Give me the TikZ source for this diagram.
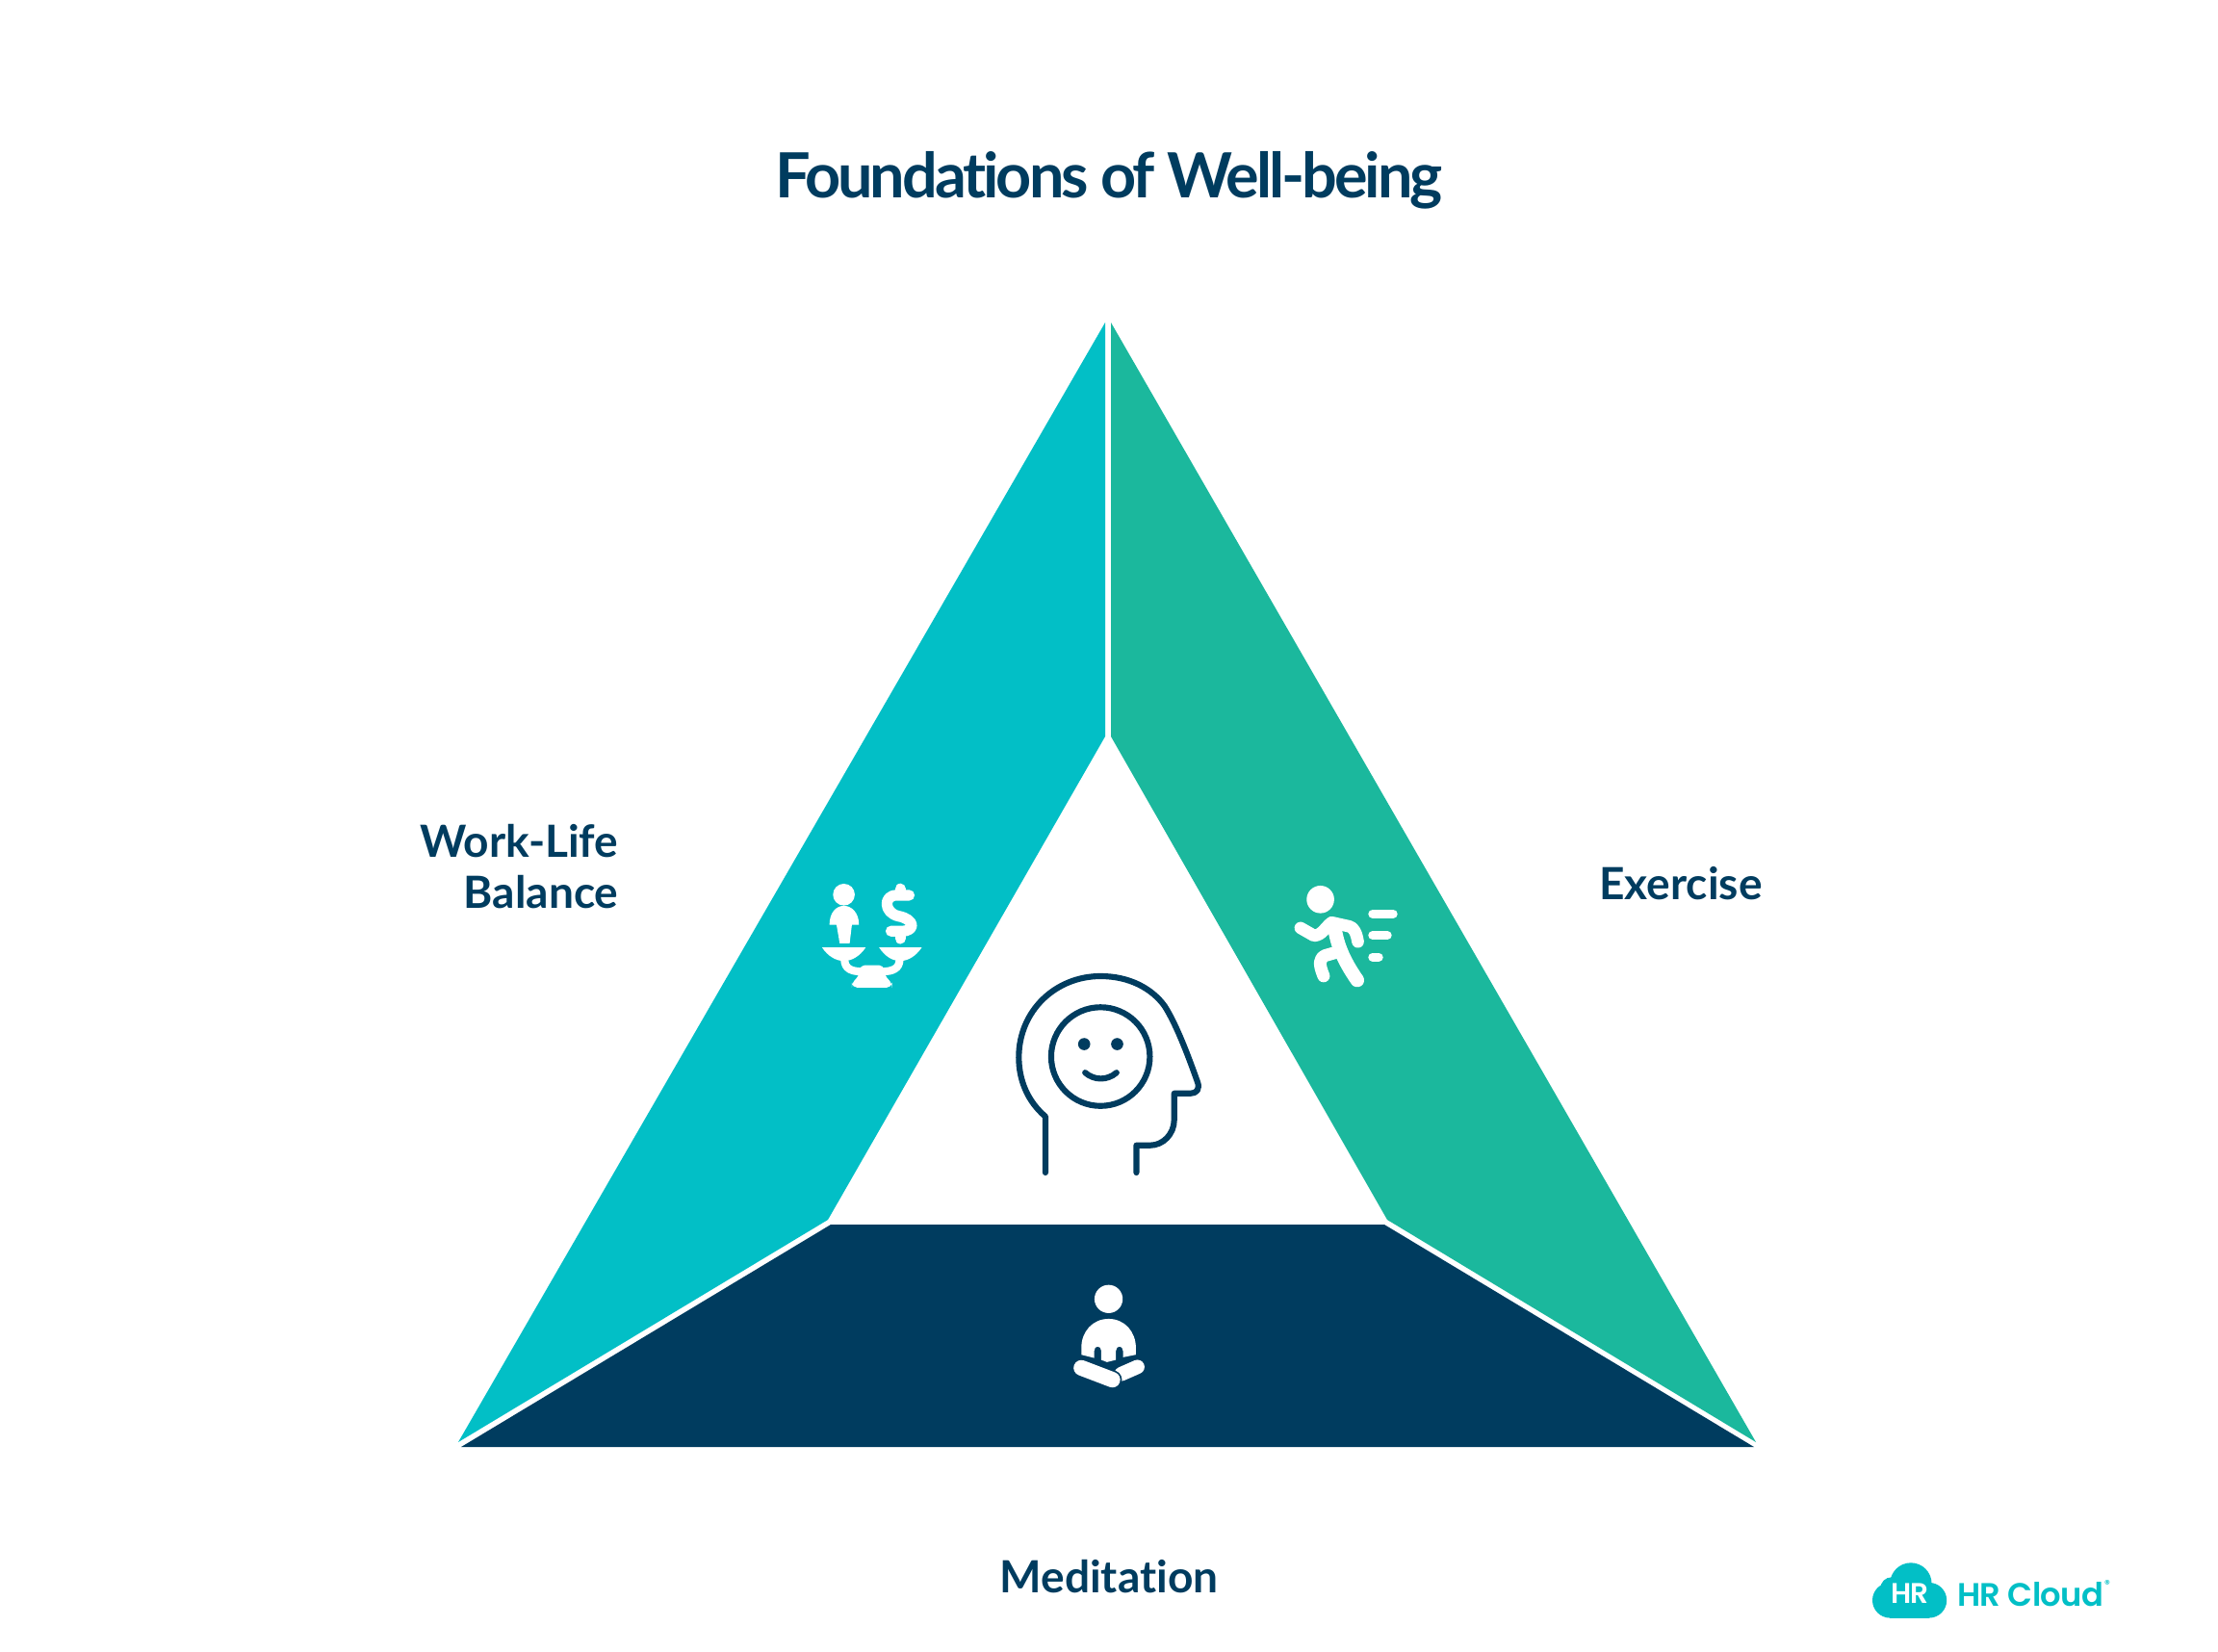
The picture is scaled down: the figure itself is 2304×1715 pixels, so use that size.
\documentclass[tikz,border=0pt]{standalone}
\usepackage{fontspec}
\setmainfont{Lato}[Ligatures=NoCommon]
\newfontfamily\titlefont{Lato}[LetterSpace=-4.7,Ligatures=NoCommon]
\newfontfamily\logofont{Poppins SemiBold}[LetterSpace=-2]
\definecolor{wbcyan}{HTML}{02BFC6}
\definecolor{wbgreen}{HTML}{1BB89D}
\definecolor{wbnavy}{HTML}{003C5F}
\tikzset{
  panel/.style={draw=none},
  label/.style={text=wbnavy,font=\bfseries\fontsize{13.1pt}{15pt}\selectfont,inner sep=0pt,align=right},
  icon/.style={fill=white,draw=none},
  iconline/.style={draw=white,line cap=round,line join=round},
  headline/.style={draw=wbnavy,line width=1.75pt,line cap=round,line join=round},
  zoomed/.style={x=0.00333cm,y=-0.00333cm}
}
\begin{document}
\begin{tikzpicture}[x=0.01cm,y=-0.01cm]
\useasboundingbox (0,0) rectangle (2304,1715);
\fill [white] (0,0) rectangle (2304,1715);
\node [label,font=\titlefont\bfseries\fontsize{18.4pt}{22pt}\selectfont] (title) at (1152,187) {Foundations of Well-being};
\fill [wbcyan,panel] (1148,335) -- (1148,765) -- (860,1267) -- (476,1498) -- cycle;
\fill [wbgreen,panel] (1154,335) -- (1154,765) -- (1441,1267) -- (1824,1498) -- cycle;
\fill [wbnavy,panel] (479,1503) -- (863,1272) -- (1438,1272) -- (1822,1503) -- cycle;
\node [label,anchor=east] (balance) at (643,900) {Work-Life\\Balance};
\node [label] (exercise) at (1746,918) {Exercise};
\node [label] (meditation) at (1152,1638) {Meditation};
% head
\begin{scope}[shift={(1040,1000)},zoomed]
\draw [headline] (138,655) -- (138,480) .. controls (85,435) and (55,370) .. (55,295) .. controls (55,150) and (170,42) .. (310,42) .. controls (400,42) and (470,80) .. (510,135) .. controls (545,190) and (580,280) .. (612,370) .. controls (622,395) and (610,408) .. (590,408) -- (540,408) -- (540,490) .. controls (540,535) and (505,570) .. (465,570) -- (422,570) -- (422,655);
\draw [headline] (310,293) circle (154);
\fill [wbnavy] (259,254) circle (19);
\fill [wbnavy] (362,254) circle (19);
\draw [headline] (262,343) .. controls (290,368) and (332,368) .. (360,343);
\end{scope}
% balance icon
\begin{scope}[shift={(830,890)},zoomed]
\fill [icon] (140,118) circle (34);
\fill [icon] (95,212) .. controls (95,175) and (115,153) .. (140,153) .. controls (165,153) and (187,175) .. (187,212) -- (165,212) -- (158,270) -- (127,270) -- (117,212) -- cycle;
\draw [iconline,line width=3.2pt] (344,120) -- (305,120) .. controls (262,120) and (265,175) .. (310,185) .. controls (362,195) and (365,232) .. (320,232) -- (287,232);
\draw [iconline,line width=3.2pt] (316,100) -- (316,115);
\draw [iconline,line width=3.2pt] (316,240) -- (316,255);
\fill [icon] (72,283) -- (208,283) .. controls (190,310) and (165,325) .. (140,325) .. controls (115,325) and (90,310) .. (72,283) -- cycle;
\fill [icon] (250,283) -- (383,283) .. controls (365,310) and (340,325) .. (316,325) .. controls (290,325) and (268,310) .. (250,283) -- cycle;
\draw [iconline,line width=2.3pt,line cap=butt] (142,320) .. controls (142,350) and (165,358) .. (195,358);
\draw [iconline,line width=2.3pt,line cap=butt] (314,320) .. controls (314,350) and (290,358) .. (260,358);
\fill [icon,rounded corners=1.5pt] (165,408) -- (165,392) -- (188,372) -- (190,338) -- (265,338) -- (267,372) -- (290,392) -- (290,408) -- cycle;
\end{scope}
% runner
\begin{scope}[shift={(1320,900)},zoomed]
\fill [icon] (155,103) circle (43);
\draw [iconline,line width=2.6pt] (318,148) -- (382,148);
\draw [iconline,line width=2.6pt] (318,215) -- (364,215);
\draw [iconline,line width=2.6pt] (318,283) -- (337,283);
\draw [iconline,line width=3.6pt] (93,192) -- (135,216) .. controls (160,215) and (170,190) .. (190,175) -- (245,187) .. controls (260,190) and (268,210) .. (272,235);
\draw [iconline,line width=4.1pt] (198,180) .. controls (205,240) and (225,290) .. (270,355);
\draw [iconline,line width=3.7pt] (205,268) -- (170,278) .. controls (150,288) and (150,305) .. (165,342);
\end{scope}
% meditation
\begin{scope}[shift={(1090,1320)},zoomed]
\fill [icon] (185,88) circle (44);
\fill [icon] (100,262) -- (100,240) .. controls (100,190) and (135,150) .. (185,150) .. controls (235,150) and (270,190) .. (270,240) -- (270,262) -- (230,270) -- (230,250) .. controls (230,232) and (208,232) .. (208,250) -- (208,278) -- (180,285) -- (162,278) -- (162,250) .. controls (162,232) and (140,232) .. (140,250) -- (140,272) -- cycle;
\draw [iconline,line width=4.2pt] (225,322) -- (275,300);
\draw [draw=wbnavy,line width=5.6pt,line cap=round] (100,303) -- (197,340);
\draw [iconline,line width=4.6pt] (100,303) -- (197,340);
\end{scope}
% logo
\begin{scope}[shift={(1930,1610)},zoomed]
\fill [wbcyan] (100,157) circle (55);
\fill [wbcyan] (165,105) circle (65);
\fill [wbcyan] (222,157) circle (55);
\fill [wbcyan] (105,120) circle (35);
\fill [wbcyan] (100,120) rectangle (222,212);
\node [text=white,font=\logofont\fontsize{8.4pt}{10pt}\selectfont,inner sep=0pt] (logomark) at (162,137) {HR};
\node [text=wbcyan,font=\logofont\fontsize{9.6pt}{11pt}\selectfont,inner sep=0pt,anchor=west] (logotext) at (308,140) {HR Cloud};
\node [text=wbcyan,font=\logofont\fontsize{3.2pt}{4pt}\selectfont,inner sep=0pt] (logomarkr) at (778,106) {®};
\end{scope}
\end{tikzpicture}
\end{document}
